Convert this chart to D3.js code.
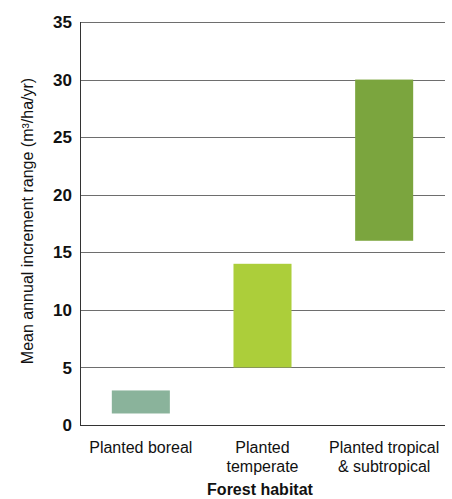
<!DOCTYPE html>
<html>
<head>
<meta charset="utf-8">
<script src="https://cdn.jsdelivr.net/npm/d3@7/dist/d3.min.js"></script>
<style>
  html, body { margin: 0; padding: 0; background: #fff; }
  svg { display: block; font-family: "Liberation Sans", Arial, Helvetica, sans-serif; }
</style>
</head>
<body>
<svg id="chart" width="452" height="499"></svg>
<script>
const categories = ["Planted boreal", "Planted temperate", "Planted tropical & subtropical"];
const categoryLines = [["Planted boreal"], ["Planted", "temperate"], ["Planted tropical", "& subtropical"]];
const lowValues = [1, 5, 16];
const highValues = [3, 14, 30];
const barColors = ["#8ab39b", "#acce3a", "#7ba53e"];
const yTicks = [0, 5, 10, 15, 20, 25, 30, 35];
const yTitle = "Mean annual increment range (m³/ha/yr)";
const xTitle = "Forest habitat";

const svg = d3.select("#chart");
const mLeft = 80, mRight = 445, mTop = 22, mBottom = 425;

const x = d3.scaleBand().domain(categories).range([mLeft, mRight])
  .paddingInner(0.523).paddingOuter(0.2615);
const y = d3.scaleLinear().domain([0, 35]).range([mBottom, mTop]);

// gridlines
svg.append("g").selectAll("line").data(yTicks.filter(d => d > 0)).join("line")
  .attr("x1", mLeft).attr("x2", mRight)
  .attr("y1", d => Math.round(y(d)) + 0.5).attr("y2", d => Math.round(y(d)) + 0.5)
  .attr("stroke", "#6e6e6e").attr("stroke-width", 1);

// bars
svg.append("g").selectAll("rect").data(categories).join("rect")
  .attr("x", d => x(d))
  .attr("width", x.bandwidth())
  .attr("y", (d, i) => y(highValues[i]))
  .attr("height", (d, i) => y(lowValues[i]) - y(highValues[i]))
  .attr("fill", (d, i) => barColors[i]);

// axes lines
svg.append("line").attr("x1", mLeft + 0.5).attr("x2", mLeft + 0.5)
  .attr("y1", Math.round(y(35))).attr("y2", Math.round(y(0)) + 1)
  .attr("stroke", "#333").attr("stroke-width", 1);
svg.append("line").attr("x1", mLeft).attr("x2", mRight)
  .attr("y1", Math.round(y(0)) + 0.5).attr("y2", Math.round(y(0)) + 0.5)
  .attr("stroke", "#333").attr("stroke-width", 1.2);

// y tick labels
svg.append("g").selectAll("text").data(yTicks).join("text")
  .attr("x", 72).attr("y", d => y(d))
  .attr("dy", "0.36em")
  .attr("text-anchor", "end")
  .attr("font-size", 17).attr("font-weight", "bold").attr("fill", "#111")
  .text(d => d);

// x category labels
const xl = svg.append("g").selectAll("text").data(categories).join("text")
  .attr("text-anchor", "middle")
  .attr("font-size", 16).attr("fill", "#111");
xl.each(function(d, i) {
  const t = d3.select(this);
  categoryLines[i].forEach((line, j) => {
    t.append("tspan").attr("x", x(d) + x.bandwidth() / 2).attr("y", 453 + j * 19).text(line);
  });
});

// x title
svg.append("text").attr("x", 260).attr("y", 495)
  .attr("text-anchor", "middle").attr("font-size", 16).attr("font-weight", "bold")
  .attr("fill", "#111").text(xTitle);

// y title
svg.append("text")
  .attr("transform", "translate(33, 221) rotate(-90)")
  .attr("text-anchor", "middle").attr("font-size", 16).attr("fill", "#111")
  .text(yTitle);
</script>
</body>
</html>
